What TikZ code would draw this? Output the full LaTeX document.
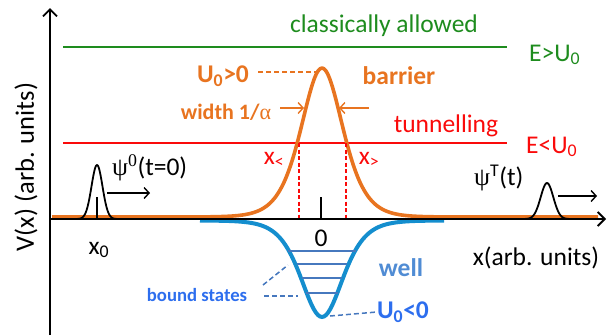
\documentclass[tikz,border=0pt]{standalone}
\usepackage{fontspec}
\setmainfont{Carlito}
\newfontfamily\greekfont{Liberation Serif}
\usetikzlibrary{arrows.meta,positioning,calc}
\definecolor{allowgreen}{RGB}{30,140,30}
\definecolor{tunnelred}{RGB}{250,10,10}
\definecolor{barrierorange}{RGB}{232,116,32}
\definecolor{wellblue}{RGB}{20,142,206}
\definecolor{levelblue}{RGB}{70,120,190}
\definecolor{welltext}{RGB}{80,140,212}
\definecolor{boundtext}{RGB}{45,110,238}

\begin{document}
\begin{tikzpicture}[
  x=1pt, y=-1pt,
  >={Straight Barb[length=5pt,width=11pt,line width=1.4pt]},
  lbl/.style={inner sep=0pt, font=\fontsize{25.5}{30}\selectfont},
  smalllbl/.style={inner sep=0pt, font=\fontsize{22}{26}\selectfont},
  axis/.style={line width=1.8pt, draw=black},
  packet/.style={line width=1.8pt, draw=black, line join=round},
  level/.style={line width=1.8pt, draw=levelblue},
  pointer/.style={line width=1.5pt, dashed, dash pattern=on 5pt off 3pt}
]
  \useasboundingbox (0,0) rectangle (608,335);

  % Energy levels
  \draw[line width=2pt, draw=allowgreen] (63,47) coordinate (gA) -- (507,47) coordinate (gB);
  \draw[line width=2.4pt, draw=tunnelred] (63,143) coordinate (rA) -- (507,143) coordinate (rB);
  \node[lbl, text=allowgreen] (allowed) at (384,26) {classically allowed};
  \node[lbl, text=allowgreen, anchor=west] (egt) at (529,55) {E>U\textsubscript{0}};
  \node[lbl, text=tunnelred] (tunnel) at (446,126) {tunnelling};
  \node[lbl, text=tunnelred, anchor=west] (elt) at (526,147) {E<U\textsubscript{0}};

  % Well and bound states
  \draw[line width=4pt, draw=wellblue]
    plot[domain=200:444, samples=121, smooth] (\x, {220.5+96.5/(cosh((\x-322)/28))^2});
  \foreach \yy/\hw in {251/34, 264/25, 278/20, 293/16}
    \draw[level] (322-\hw,\yy) -- (322+\hw,\yy);
  \node[lbl, font=\fontsize{18.7}{22}\selectfont\bfseries, text=boundtext] (bound) at (197,295) {bound states};
  \coordinate (bA) at (263,285);
  \coordinate (bB) at (288,265);
  \coordinate (bC) at (264,296);
  \coordinate (bD) at (298,296);
  \draw[pointer, draw=levelblue] (bA) -- (bB);
  \draw[pointer, draw=levelblue] (bC) -- (bD);
  \node[lbl, font=\fontsize{25.5}{30}\selectfont\bfseries, text=welltext] (well) at (401,268) {well};
  \node[lbl, font=\fontsize{25.5}{30}\selectfont\bfseries, text=boundtext] (uneg) at (403,312) {U\textsubscript{0}<0};
  \coordinate (wellbottom) at (330,316);
  \draw[pointer, draw=levelblue] (wellbottom) -- (uneg.west);

  % Barrier
  \draw[line width=3.6pt, draw=barrierorange, line join=round]
    (52,217) -- plot[domain=182:462, samples=141, smooth] (\x, {217-149/(cosh((\x-322)/28))^2}) -- (598,217);
  \node[lbl, font=\fontsize{25.5}{30}\selectfont\bfseries, text=barrierorange] (upos) at (223,76) {U\textsubscript{0}>0};
  \node[lbl, font=\fontsize{25.5}{30}\selectfont\bfseries, text=barrierorange] (barrier) at (399,76) {barrier};
  \coordinate (peak) at (316,72);
  \draw[pointer, draw=barrierorange] ([xshift=9pt]upos.east |- peak) -- (peak);
  \node[smalllbl, font=\fontsize{22}{26}\selectfont\bfseries, text=barrierorange] (width) at (226,112) {width 1/{\mdseries\greekfont α}};
  \coordinate (wL) at (304,108);
  \coordinate (wR) at (339,108);
  \draw[->, line width=1.8pt, draw=barrierorange] (280,108) -- (wL);
  \draw[->, line width=1.8pt, draw=barrierorange] (369,108) -- (wR);

  % Turning points
  \draw[line width=1.5pt, draw=tunnelred, dashed, dash pattern=on 4pt off 2.5pt] (299,143) coordinate (tpL) -- (299,219);
  \draw[line width=1.5pt, draw=tunnelred, dashed, dash pattern=on 4pt off 2.5pt] (346,143) coordinate (tpR) -- (346,219);
  \node[lbl, text=tunnelred] (xless) at (274,160) {x\textsubscript{<}};
  \node[lbl, text=tunnelred] (xmore) at (369,160) {x\textsubscript{>}};

  % Axes
  \coordinate (origin) at (50,219);
  \draw[axis, ->, >={Straight Barb[length=7pt,width=14pt,line width=1.8pt]}] (50,335) -- (50,8) coordinate (ytip);
  \draw[axis, ->, >={Straight Barb[length=7pt,width=14pt,line width=1.8pt]}] (origin) -- (606,219) coordinate (xtip);
  \draw[line width=1.5pt] (321,197) coordinate (zerotick) -- (321,219);
  \node[lbl] (zero) at (321,238) {0};
  \node[lbl] (xlabel) at (536,258) {x(arb. units)};
  \node[lbl, font=\fontsize{26.5}{30}\selectfont, rotate=90] (vlabel) at (26,167) {V(x) (arb. units)};

  % Wave packets
  \draw[packet] plot[domain=76:118, samples=61, smooth] (\x, {219-54*exp(-(\x-97)^2/60)});
  \draw[line width=1.5pt] (97,197) -- (97,219);
  \draw[->, line width=1.5pt] (107,193) coordinate (pk0) -- (150,193);
  \node[lbl, anchor=west] (psi0) at (112,168) {{\greekfont ψ}\textsuperscript{\greekfont 0}(t=0)};
  \node[lbl] (xzero) at (99,250) {x\textsubscript{0}};
  \draw[packet] plot[domain=524:570, samples=61, smooth] (\x, {219-36*exp(-(\x-547)^2/80)});
  \draw[->, line width=1.5pt] (558,196) coordinate (pkT) -- (597,196);
  \node[lbl, anchor=west] (psiT) at (474,178) {{\greekfont ψ}\textsuperscript{T}(t)};
\end{tikzpicture}
\end{document}
